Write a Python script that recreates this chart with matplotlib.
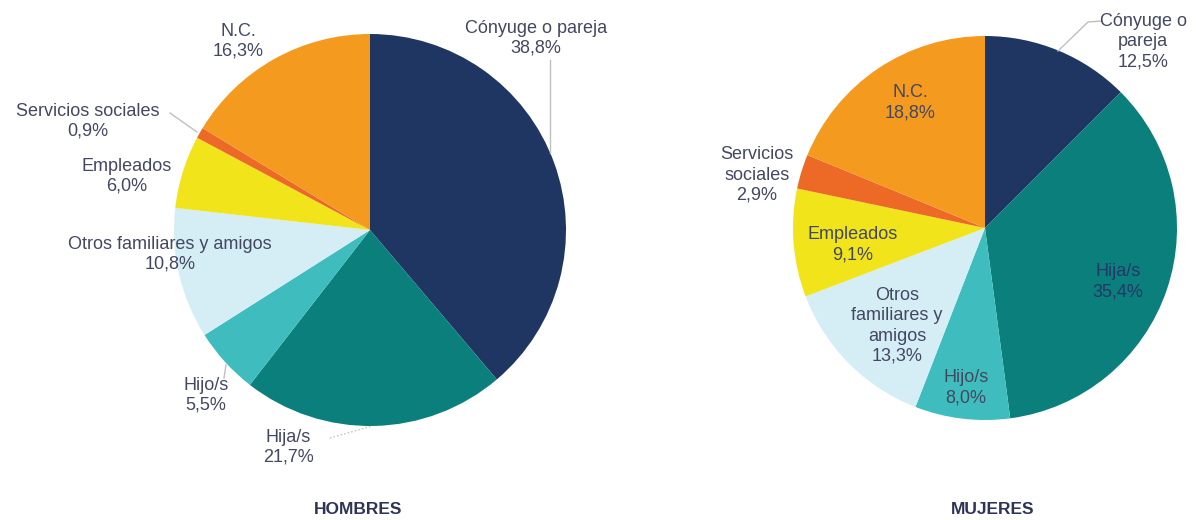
import matplotlib.pyplot as plt

plt.rcParams['font.family'] = ['Liberation Sans', 'DejaVu Sans']

# datos
categorias = ['Cónyuge o pareja', 'Hija/s', 'Hijo/s', 'Otros familiares y amigos',
              'Empleados', 'Servicios sociales', 'N.C.']
hombres = [38.8, 21.7, 5.5, 10.8, 6.0, 0.9, 16.3]
mujeres = [12.5, 35.4, 8.0, 13.3, 9.1, 2.9, 18.8]

# etiquetas como aparecen en cada gráfico (saltos de línea)
etiq_hombres = ['Cónyuge o pareja', 'Hija/s', 'Hijo/s', 'Otros familiares y amigos',
                'Empleados', 'Servicios sociales', 'N.C.']
etiq_mujeres = ['Cónyuge o\npareja', 'Hija/s', 'Hijo/s', 'Otros\nfamiliares y\namigos',
                'Empleados', 'Servicios\nsociales', 'N.C.']

colores = ['#1F3562', '#0B7F7B', '#3FBDBE', '#D5EDF4', '#F2E41B', '#EC6A26', '#F39A1F']
color_texto = '#434862'

W, H = 1203, 520


def py(y):
    # coordenada y en pixeles (desde arriba) -> datos
    return H - y


fig = plt.figure(figsize=(W / 100, H / 100), dpi=100)
ax = fig.add_axes([0, 0, 1, 1])

# posiciones de las etiquetas (pixeles)
pos_h = [(536, 38), (288, 447), (206, 395), (170, 254), (127, 176), (88, 121), (238, 41)]
pos_m = [(1143, 42), (1118, 282), (966, 388), (897, 326), (853, 245), (757, 175), (910, 103)]

for valores, etiquetas, centro, radio, pos, titulo, tx, ls in [
        (hombres, etiq_hombres, (370, 230), 196, pos_h, 'HOMBRES', 358, 1.18),
        (mujeres, etiq_mujeres, (985, 228), 192, pos_m, 'MUJERES', 993, 1.25)]:
    ax.pie(valores, colors=colores, startangle=90, counterclock=False,
           center=(centro[0], py(centro[1])), radius=radio, frame=True,
           wedgeprops=dict(linewidth=0))
    for i, (et, v) in enumerate(zip(etiquetas, valores)):
        txt = et + '\n' + f'{v:.1f}'.replace('.', ',') + '%'
        c = color_texto
        if titulo == 'MUJERES' and i == 1:
            c = '#23376A'
        ax.text(pos[i][0], py(pos[i][1]), txt, ha='center', va='center',
                fontsize=13, color=c, linespacing=ls)
    ax.text(tx, py(510), titulo, ha='center', va='center', fontsize=12.5,
            fontweight='bold', color='#2E3455')

# líneas guía
gris = '#BFBFBF'
ax.plot([550, 550], [py(60), py(153)], color=gris, lw=1)
ax.plot([330, 372], [py(438), py(426)], color=gris, lw=1, ls=':')
ax.plot([170, 197], [py(113), py(132)], color=gris, lw=1)
ax.plot([224, 226], [py(378), py(365)], color=gris, lw=1)
ax.plot([1102, 1088, 1058], [py(21), py(22), py(51)], color=gris, lw=1)

ax.set_xlim(0, W)
ax.set_ylim(0, H)
ax.set_aspect('equal')
ax.axis('off')

fig.savefig('out.png', dpi=100, facecolor='white')
